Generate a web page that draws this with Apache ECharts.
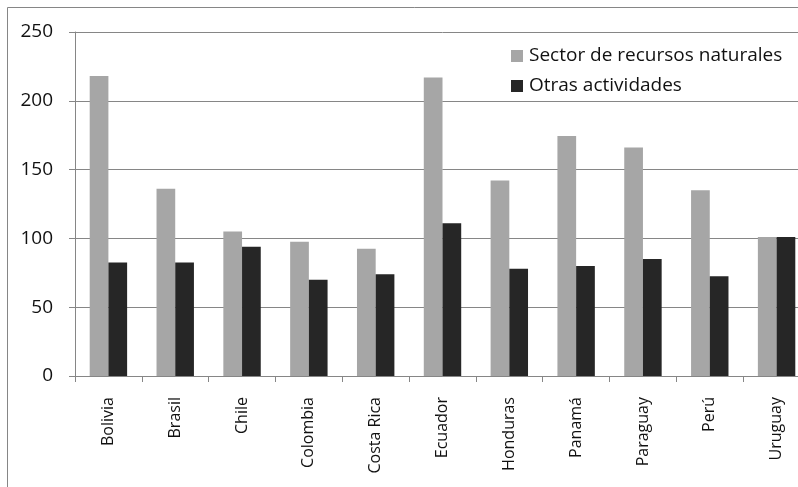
<!DOCTYPE html>
<html><head><meta charset="utf-8">
<script src="https://cdn.jsdelivr.net/npm/echarts@6/dist/echarts.min.js"></script>
<style>html,body{margin:0;padding:0;background:#fff;overflow:hidden;}#c{width:820px;height:487px;}</style>
</head><body><div id="c"></div>
<script>
const categories = ['Bolivia','Brasil','Chile','Colombia','Costa Rica','Ecuador','Honduras','Panamá','Paraguay','Perú','Uruguay'];
const recursosNaturales = [218, 136, 105, 97.5, 92.5, 217, 142, 174.5, 166, 135, 101];
const otrasActividades = [82.5, 82.5, 94, 70, 74, 111, 78, 80, 85, 72.5, 101];
const yTicks = [0, 50, 100, 150, 200, 250];
const seriesNames = ['Sector de recursos naturales', 'Otras actividades'];

const chart = echarts.init(document.getElementById('c'), null, {renderer:'canvas'});
const font = 'Open Sans';
chart.setOption({
  animation:false,
  backgroundColor:'#fff',
  graphic:[{type:'rect', shape:{x:7.5,y:7.5,width:900,height:600}, style:{fill:'none', stroke:'#868686', lineWidth:1}, z:-1}],
  legend:{orient:'vertical', left:506, top:41, itemWidth:12, itemHeight:12, itemGap:10,
    icon:'rect', textStyle:{fontFamily:font, fontSize:19, lineHeight:20, color:'#111', padding:[0,0,0,1]}, data:seriesNames},
  grid:{left:75, top:32, width:735, height:344},
  xAxis:{type:'category', data:categories,
    axisLine:{lineStyle:{color:'#868686'}},
    axisTick:{show:true, length:6, alignWithLabel:false, lineStyle:{color:'#868686'}},
    axisLabel:{rotate:90, margin:21, fontFamily:font, fontSize:16, color:'#111', interval:0}},
  yAxis:{type:'value', min:yTicks[0], max:yTicks[yTicks.length-1], interval:50,
    axisLine:{show:true, lineStyle:{color:'#868686'}},
    axisTick:{show:true, length:6, lineStyle:{color:'#868686'}},
    splitLine:{lineStyle:{color:'#868686'}},
    axisLabel:{margin:22, fontFamily:font, fontSize:19, color:'#111'}},
  series:[
    {name:seriesNames[0], type:'bar', data:recursosNaturales, barGap:'0%', barCategoryGap:'44%', itemStyle:{color:'#a6a6a6'}},
    {name:seriesNames[1], type:'bar', data:otrasActividades, itemStyle:{color:'#262626'}}
  ]
});
</script></body></html>
